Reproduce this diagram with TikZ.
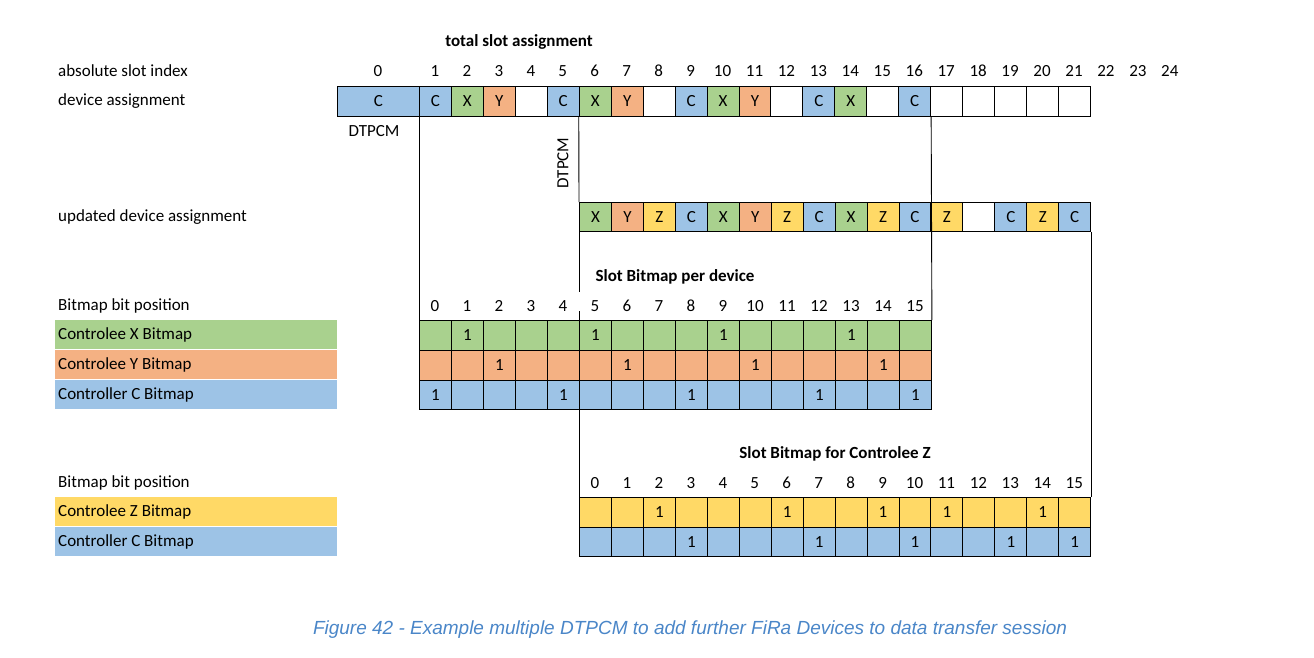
\documentclass[tikz,border=0pt]{standalone}
\usepackage{fontspec}
\setmainfont{Carlito}
\newfontfamily\capfont{Liberation Sans}
\definecolor{cb}{HTML}{9DC3E6}
\definecolor{cg}{HTML}{A9D18E}
\definecolor{co}{HTML}{F4B183}
\definecolor{cy}{HTML}{FFD966}
\definecolor{capc}{HTML}{4A86C8}
\begin{document}
\begin{tikzpicture}[x=1pt,y=-1pt,
  cell/.style={draw=black,line width=0.9pt,minimum width=32pt,minimum height=30pt,inner sep=0pt,anchor=north west,font=\fontsize{17}{17}\selectfont},
  lbl/.style={anchor=west,inner sep=0pt,font=\fontsize{17}{17}\selectfont},
  num/.style={inner sep=0pt,font=\fontsize{17}{17}\selectfont},
  ttl/.style={inner sep=0pt,font=\fontsize{17}{17}\selectfont\bfseries},
  band/.style={anchor=north west,minimum width=282pt,minimum height=29pt,inner sep=0pt},
  ln/.style={line width=0.9pt}]
\useasboundingbox (0,0) rectangle (1314,657);
% left labels
\node[lbl] (l1) at (58,71) {absolute slot index};
\node[lbl] (l2) at (58,101) {device assignment};
\node[lbl] (l3) at (58,217) {updated device assignment};
\node[lbl] (l4) at (58,306) {Bitmap bit position};
\node[band,fill=cg] (b1) at (55,320) {};
\node[band,fill=co] (b2) at (55,350) {};
\node[band,fill=cb] (b3) at (55,380) {};
\node[lbl] at (58,335) {Controlee X Bitmap};
\node[lbl] at (58,365) {Controlee Y Bitmap};
\node[lbl] at (58,395) {Controller C Bitmap};
\node[lbl] (l5) at (58,483) {Bitmap bit position};
\node[band,fill=cy] (b4) at (55,497) {};
\node[band,fill=cb] (b5) at (55,527) {};
\node[lbl] at (58,512) {Controlee Z Bitmap};
\node[lbl] at (58,542) {Controller C Bitmap};
% titles
\node[ttl] (t1) at (519,42) {total slot assignment};
\node[ttl] (t2) at (675,277) {Slot Bitmap per device};
\node[ttl] (t3) at (835,454) {Slot Bitmap for Controlee Z};
% top row
\node[cell,fill=cb,minimum width=82pt] (s0) at (337,86) {C};
\node[num] (n0) at (378,71) {0};
\foreach \i/\c/\t in {1/cb/C,2/cg/X,3/co/Y,4/white/,5/cb/C,6/cg/X,7/co/Y,8/white/,9/cb/C,10/cg/X,11/co/Y,12/white/,13/cb/C,14/cg/X,15/white/,16/cb/C,17/white/,18/white/,19/white/,20/white/,21/white/}{
  \node[cell,fill=\c] (s\i) at ({419+31.95*(\i-1)},86) {\t};
}
\foreach \i in {1,...,24}{\node[num] (n\i) at ({435+31.95*(\i-1)},71) {\i};}
\node[num] (d1) at (374,131) {DTPCM};
\node[num,rotate=90] (d2) at (563,163) {DTPCM};
% updated row
\foreach \j/\c/\t in {0/cg/X,1/co/Y,2/cy/Z,3/cb/C,4/cg/X,5/co/Y,6/cy/Z,7/cb/C,8/cg/X,9/cy/Z,10/cb/C,11/cy/Z,12/white/,13/cb/C,14/cy/Z,15/cb/C}{
  \node[cell,fill=\c,minimum height=29pt] (u\j) at ({579+31.95*\j},202) {\t};
}
% bitmaps per device
\foreach \j in {0,...,15}{\node[num] (p\j) at ({435+32*\j},306) {\j};}
\foreach \j in {0,...,15}{
  \pgfmathtruncatemacro\x{mod(\j,4)==1?1:0}
  \pgfmathtruncatemacro\y{mod(\j,4)==2?1:0}
  \pgfmathtruncatemacro\z{mod(\j,4)==0?1:0}
  \node[cell,fill=cg] (x\j) at ({419+32*\j},320) {\ifnum\x=1 1\fi};
  \node[cell,fill=co] (y\j) at ({419+32*\j},350) {\ifnum\y=1 1\fi};
  \node[cell,fill=cb,minimum height=29pt] (c\j) at ({419+32*\j},380) {\ifnum\j=15 1\else\ifnum\z=1 1\fi\fi};
}
% Z bitmap
\foreach \j in {0,...,15}{\node[num] (q\j) at ({595+31.95*\j},483) {\j};}
\foreach \j in {0,...,15}{
  \node[cell,fill=cy] (z\j) at ({579+31.95*\j},497) {};
  \node[cell,fill=cb,minimum height=29pt] (w\j) at ({579+31.95*\j},527) {};
}
\foreach \j in {2,6,9,11,14}{\node[num] at (z\j.center) {1};}
\foreach \j in {3,7,10,13,15}{\node[num] at (w\j.center) {1};}
% connector lines
\draw[ln] (s1.south west) -- (c0.south west);
\draw[ln] (s6.south west) -- (u0.north west);
\draw[ln] (u0.south west) -- ++(0,60) coordinate (e1);
\draw[ln] (x5.north west) -- ++(0,-9) coordinate (e2);
\draw[ln] (c5.south west) -- (w0.north west);
\draw[ln] (s16.south east) -- (x15.north east);
\draw[ln] (u15.south east) -- (z15.north east);
% caption
\node[inner sep=0pt,font=\capfont\itshape\fontsize{19}{19}\selectfont,text=capc] (cap) at (690,630) {Figure 42 - Example multiple DTPCM to add further FiRa Devices to data transfer session};
\end{tikzpicture}
\end{document}
